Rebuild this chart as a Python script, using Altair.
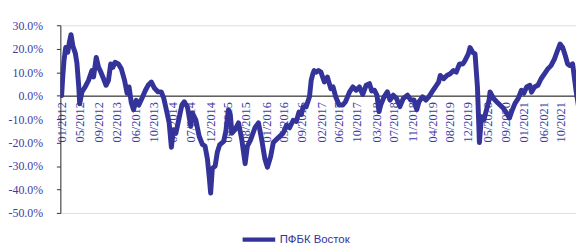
import altair as alt
import pandas as pd

SERIES = "ПФБК Восток"

dates = [
    "2012-01-03", "2012-01-11", "2012-01-20", "2012-02-01", "2012-02-16", "2012-02-28",
    "2012-03-10", "2012-03-24", "2012-04-10", "2012-04-21", "2012-05-04", "2012-05-11",
    "2012-05-27", "2012-06-19", "2012-07-13", "2012-08-06", "2012-08-18", "2012-09-06",
    "2012-09-23", "2012-10-04", "2012-10-28", "2012-11-15", "2012-12-02", "2012-12-18",
    "2013-01-02", "2013-01-18", "2013-02-11", "2013-03-04", "2013-03-27", "2013-04-14",
    "2013-04-28", "2013-05-14", "2013-05-30", "2013-06-18", "2013-07-07", "2013-07-30",
    "2013-08-23", "2013-09-11", "2013-10-04", "2013-10-28", "2013-11-21", "2013-12-14",
    "2014-01-01", "2014-01-19", "2014-02-08", "2014-02-24", "2014-03-10", "2014-03-28",
    "2014-04-22", "2014-05-10", "2014-05-27", "2014-06-19", "2014-07-12", "2014-07-24",
    "2014-08-17", "2014-09-10", "2014-10-03", "2014-10-22", "2014-11-08", "2014-11-20",
    "2014-12-01", "2014-12-13", "2015-01-02", "2015-01-18", "2015-02-03", "2015-03-04",
    "2015-03-20", "2015-04-07", "2015-04-20", "2015-05-02", "2015-05-24", "2015-06-18",
    "2015-07-11", "2015-08-04", "2015-08-20", "2015-09-13", "2015-10-13", "2015-11-07",
    "2015-11-30", "2015-12-23", "2016-01-10", "2016-02-02", "2016-02-21", "2016-03-26",
    "2016-05-01", "2016-05-26", "2016-06-16", "2016-07-12", "2016-08-03", "2016-08-22",
    "2016-09-08", "2016-09-21", "2016-10-12", "2016-11-05", "2016-11-17", "2016-11-29",
    "2016-12-08", "2016-12-22", "2017-01-08", "2017-01-26", "2017-02-19", "2017-03-13",
    "2017-04-06", "2017-04-22", "2017-05-11", "2017-06-04", "2017-07-01", "2017-07-20",
    "2017-08-18", "2017-09-11", "2017-10-04", "2017-10-27", "2017-11-20", "2017-12-14",
    "2018-01-07", "2018-01-23", "2018-02-11", "2018-03-01", "2018-03-16", "2018-03-28",
    "2018-04-21", "2018-05-14", "2018-06-02", "2018-06-26", "2018-07-19", "2018-08-12",
    "2018-09-05", "2018-10-05", "2018-10-28", "2018-11-21", "2018-12-10", "2018-12-26",
    "2019-01-20", "2019-02-13", "2019-03-06", "2019-03-29", "2019-04-22", "2019-05-15",
    "2019-05-27", "2019-06-20", "2019-07-13", "2019-08-06", "2019-08-29", "2019-09-18",
    "2019-10-11", "2019-11-04", "2019-11-20", "2019-12-13", "2019-12-25", "2020-01-14",
    "2020-01-30", "2020-02-16", "2020-02-23", "2020-03-01", "2020-03-16", "2020-04-02",
    "2020-04-21", "2020-05-09", "2020-05-16", "2020-06-10", "2020-07-02", "2020-07-26",
    "2020-08-19", "2020-09-12", "2020-10-01", "2020-10-17", "2020-11-10", "2020-12-03",
    "2020-12-26", "2021-01-12", "2021-02-01", "2021-02-24", "2021-03-08", "2021-03-29",
    "2021-04-22", "2021-05-15", "2021-06-08", "2021-07-02", "2021-07-25", "2021-08-18",
    "2021-09-04", "2021-09-27", "2021-10-16", "2021-11-04", "2021-11-20", "2021-12-07",
    "2021-12-26", "2022-01-07", "2022-01-19", "2022-02-02", "2022-02-14",
]

values = [
    0.0, 8.0, 15.0, 20.5, 18.5, 23.0,
    26.0, 21.0, 18.0, 14.0, 4.0, -3.5,
    1.6, 3.7, 6.5, 10.7, 8.0, 16.3,
    12.0, 10.7, 7.2, 4.4, 6.5, 13.5,
    12.0, 14.2, 13.5, 11.4, 6.5, 1.0,
    3.7, -3.0, -6.0, -2.0, -4.0, -1.0,
    2.3, 4.4, 5.8, 3.0, 1.6, 1.6,
    -1.2, -6.0, -11.6, -22.0, -14.5, -16.0,
    -9.0, -4.0, -2.6, -5.0, -13.0, -7.4,
    -10.3, -17.3, -20.8, -21.5, -27.0, -34.0,
    -41.5, -31.0, -30.0, -24.0, -21.0, -19.5,
    -15.0, -6.0, -8.0, -16.0, -14.5, -11.6,
    -18.7, -29.0, -21.5, -18.7, -13.7, -11.6,
    -18.7, -27.0, -30.5, -26.0, -20.0, -18.0,
    -16.0, -12.5, -13.7, -10.5, -11.0, -7.0,
    -8.0, -4.7, -4.8, -0.5, 6.5, 9.3,
    10.7, 10.0, 10.7, 10.0, 5.8, 7.9,
    3.0, 3.7, -0.5, -4.0, -4.0, -2.6,
    1.6, 3.7, 2.3, 3.7, 0.5, 4.4,
    5.1, 2.0, 2.3, 0.2, -6.8, -4.0,
    -0.5, 1.6, -1.9, 0.2, -1.2, -4.7,
    -1.2, 0.2, -1.9, -1.9, -6.0, -2.6,
    -0.5, -1.9, -0.5, 1.6, 3.7, 5.8,
    8.6, 7.2, 8.6, 9.3, 10.7, 10.0,
    13.5, 13.5, 15.0, 17.8, 20.5, 18.4,
    17.8, 3.7, -8.0, -20.0, -9.0, -10.3,
    -6.0, -1.9, 1.6, -1.2, -2.6, -4.0,
    -5.4, -7.5, -9.6, -6.8, -3.3, -1.2,
    2.3, 1.0, 3.7, 4.4, 1.5, 3.7,
    4.4, 7.2, 9.3, 11.4, 12.8, 15.6,
    18.4, 22.0, 20.5, 17.0, 13.5, 12.8,
    13.5, 7.9, 2.3, -3.0, -8.0,
]

tick_dates = [
    "2012-01-03", "2012-05-10", "2012-09-20", "2013-02-01", "2013-06-10", "2013-10-20",
    "2014-03-01", "2014-07-10", "2014-12-01", "2015-04-01", "2015-08-10", "2016-01-02",
    "2016-05-01", "2016-09-10", "2017-02-01", "2017-06-01", "2017-10-10", "2018-03-01",
    "2018-07-01", "2018-11-10", "2019-04-01", "2019-08-01", "2019-12-10", "2020-05-01",
    "2020-09-01", "2021-01-10", "2021-06-01", "2021-10-01",
]

y_ticks = [30, 20, 10, 0, -10, -20, -30, -40, -50]

df = pd.DataFrame({"date": dates, "value": values, "series": SERIES})

BLUE = "#333399"
TEXT = "#3c3ca6"

x_enc = alt.X(
    "date:T",
    scale=alt.Scale(domain=["2011-12-25", "2022-01-19"], nice=False),
    axis=alt.Axis(
        title=None,
        values=[pd.Timestamp(d).isoformat() for d in tick_dates],
        format="%m/%Y",
        labelAngle=-90,
        labelFont="Liberation Serif",
        labelFontSize=12.5,
        labelColor=TEXT,
        labelPadding=6,
        labelOverlap=False,
        ticks=False,
        grid=False,
        domainColor="#000000",
        domainWidth=1,
        offset=-118.75,
    ),
)

y_enc = alt.Y(
    "value:Q",
    scale=alt.Scale(domain=[-50, 30], nice=False, zero=False),
    axis=alt.Axis(
        title=None,
        values=y_ticks,
        labelExpr="replace(format(datum.value, '.1f'), '\u2212', '-') + '%'",
        labelFont="Liberation Serif",
        labelFontSize=12,
        labelColor=TEXT,
        labelPadding=14,
        tickSize=4,
        tickColor="#333333",
        domainColor="#333333",
        grid=False,
    ),
)

chart = (
    alt.Chart(df)
    .mark_line(strokeWidth=5, strokeJoin="round", strokeCap="round", clip=True)
    .encode(
        x=x_enc,
        y=y_enc,
        color=alt.Color(
            "series:N",
            scale=alt.Scale(range=[BLUE]),
            legend=alt.Legend(
                title=None,
                orient="none",
                legendX=182,
                legendY=198,
                direction="horizontal",
                symbolType="stroke",
                symbolSize=1089,
                symbolStrokeWidth=4.5,
                labelFont="Liberation Sans",
                labelFontSize=11.5,
                labelColor=BLUE,
                labelOffset=2,
            ),
        ),
    )
    .properties(
        width=522,
        height=190,
        autosize=alt.AutoSizeParams(type="none"),
        padding={"left": 53, "top": 16, "right": 0, "bottom": 32},
    )
    .configure_view(stroke=None)
    .configure(background="#ffffff")
)

chart.save("out.html", embed_options={"renderer": "svg", "actions": False})
